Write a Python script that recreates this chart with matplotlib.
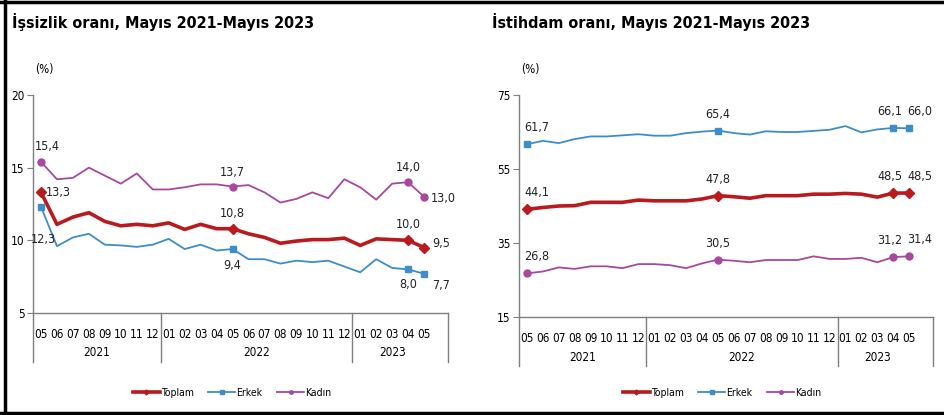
import matplotlib
matplotlib.use("Agg")
import matplotlib.pyplot as plt
from matplotlib import font_manager
from matplotlib.lines import Line2D
import matplotlib.transforms as mtransforms

# narrow font if there is one, like the Arial Narrow of the original
narrow = None
for f in font_manager.fontManager.ttflist:
    if ('Narrow' in f.name or 'Condensed' in f.name or f.stretch in ('condensed', 'semi-condensed')) \
            and f.style == 'normal' and f.weight in (400, 'normal', 'regular'):
        narrow = f
        break
if narrow is not None:
    plt.rcParams['font.family'] = [narrow.name, 'DejaVu Sans']
    plt.rcParams['font.stretch'] = narrow.stretch
else:
    plt.rcParams['font.family'] = ['Liberation Sans', 'DejaVu Sans']

# data
months = ['05', '06', '07', '08', '09', '10', '11', '12',
          '01', '02', '03', '04', '05', '06', '07', '08', '09', '10', '11', '12',
          '01', '02', '03', '04', '05']
years = ['2021', '2022', '2023']
year_bounds = [-0.5, 7.5, 19.5, 25.5]

issizlik_toplam = [13.3, 11.1, 11.6, 11.9, 11.3, 11.0, 11.1, 11.0, 11.2, 10.75, 11.1, 10.8, 10.8,
                   10.45, 10.2, 9.8, 9.95, 10.05, 10.05, 10.15, 9.65, 10.1, 10.05, 10.0, 9.5]
issizlik_erkek = [12.3, 9.6, 10.2, 10.45, 9.7, 9.65, 9.55, 9.7, 10.1, 9.4, 9.7, 9.3, 9.4,
                  8.7, 8.7, 8.4, 8.6, 8.5, 8.6, 8.2, 7.8, 8.7, 8.1, 8.0, 7.7]
issizlik_kadin = [15.4, 14.2, 14.3, 15.0, 14.45, 13.9, 14.6, 13.5, 13.5, 13.65, 13.85, 13.85, 13.7,
                  13.8, 13.3, 12.6, 12.85, 13.3, 12.9, 14.2, 13.65, 12.8, 13.9, 14.0, 13.0]

istihdam_toplam = [44.1, 44.6, 45.0, 45.1, 46.0, 46.0, 46.0, 46.6, 46.4, 46.4, 46.4, 46.9, 47.8,
                   47.5, 47.1, 47.8, 47.8, 47.8, 48.2, 48.2, 48.4, 48.2, 47.4, 48.5, 48.5]
istihdam_erkek = [61.7, 62.6, 62.0, 63.1, 63.8, 63.8, 64.1, 64.4, 64.0, 64.0, 64.7, 65.1, 65.4,
                  64.7, 64.3, 65.2, 65.0, 65.0, 65.3, 65.6, 66.6, 64.9, 65.7, 66.1, 66.0]
istihdam_kadin = [26.8, 27.3, 28.4, 28.0, 28.7, 28.7, 28.2, 29.3, 29.3, 29.0, 28.2, 29.5, 30.5,
                  30.2, 29.8, 30.4, 30.4, 30.4, 31.4, 30.7, 30.7, 31.0, 29.8, 31.2, 31.4]

label_idx = [0, 12, 23, 24]

red = '#B81A1E'
blue = '#3D8DC9'
purple = '#A8489F'

fig = plt.figure(figsize=(9.44, 4.15), dpi=100)
ax1 = fig.add_axes([0.035, 0.2458, 0.4396, 0.5253])
ax2 = fig.add_axes([0.5498, 0.2361, 0.4386, 0.5350])


def fmt(v):
    return ('%.1f' % v).replace('.', ',')


def draw(ax, series, ylim, yticks, offsets):
    x = list(range(len(months)))
    for vals, color, lw, mk, ms in series:
        ax.plot(x, vals, color=color, lw=lw, zorder=3)
        ax.plot([x[i] for i in label_idx], [vals[i] for i in label_idx], ls='none',
                marker=mk, color=color, ms=ms, zorder=4)
    for (vals, *_), offs in zip(series, offsets):
        for i, (dx, dy, ha, va) in zip(label_idx, offs):
            ax.annotate(fmt(vals[i]), (i, vals[i]), xytext=(dx, dy), textcoords='offset pixels',
                        ha=ha, va=va, fontsize=9, color='#222222', zorder=5)
    ax.set_xlim(-0.5, 25.5)
    ax.set_ylim(*ylim)
    ax.set_yticks(yticks)
    ax.set_xticks(x)
    ax.set_xticklabels(months, fontsize=8.5)
    ax.tick_params(axis='x', length=0, pad=11)
    ax.tick_params(axis='y', length=4, width=0.8, color='#808080', labelsize=8.5, pad=2)
    for s in ['top', 'right']:
        ax.spines[s].set_visible(False)
    for s in ['left', 'bottom']:
        ax.spines[s].set_color('#7f7f7f')
        ax.spines[s].set_linewidth(1.0)
    trans = mtransforms.blended_transform_factory(ax.transData, ax.transAxes)
    h = ax.get_window_extent().height
    for b in year_bounds:
        ax.add_line(Line2D([b, b], [0, -49 / h], transform=trans, color='#7f7f7f',
                           lw=1.0, clip_on=False))
    for k, yr in enumerate(years):
        ax.text((year_bounds[k] + year_bounds[k + 1]) / 2 - (0.5 if k == 2 else 0), -40 / h, yr,
                transform=trans, ha='center', va='center', fontsize=8.5)
    ax.text(0.005, 1.115, '(%)', transform=ax.transAxes, fontsize=8.5, ha='left', va='center')


left_series = [(issizlik_toplam, red, 2.6, 'D', 5),
               (issizlik_erkek, blue, 1.3, 's', 5),
               (issizlik_kadin, purple, 1.3, 'o', 5)]
left_offsets = [
    [(5, 0, 'left', 'center'), (0, 9, 'center', 'bottom'), (0, 9, 'center', 'bottom'), (8, 4, 'left', 'center')],
    [(2, -33, 'center', 'center'), (0, -10, 'center', 'top'), (0, -9, 'center', 'top'), (8, -12, 'left', 'center')],
    [(-6, 9, 'left', 'bottom'), (0, 8, 'center', 'bottom'), (0, 8, 'center', 'bottom'), (7, -2, 'left', 'center')],
]
draw(ax1, left_series, (5, 20), [5, 10, 15, 20], left_offsets)

right_series = [(istihdam_toplam, red, 2.6, 'D', 5),
                (istihdam_erkek, blue, 1.3, 's', 5),
                (istihdam_kadin, purple, 1.3, 'o', 5)]
right_offsets = [
    [(-3, 10, 'left', 'bottom'), (0, 10, 'center', 'bottom'), (9, 10, 'right', 'bottom'), (-2, 10, 'left', 'bottom')],
    [(-3, 10, 'left', 'bottom'), (0, 10, 'center', 'bottom'), (9, 10, 'right', 'bottom'), (-2, 10, 'left', 'bottom')],
    [(-3, 10, 'left', 'bottom'), (0, 10, 'center', 'bottom'), (9, 10, 'right', 'bottom'), (-2, 10, 'left', 'bottom')],
]
draw(ax2, right_series, (15, 75), [15, 35, 55, 75], right_offsets)

fig.text(12 / 944, 1 - 22 / 415, 'İşsizlik oranı, Mayıs 2021-Mayıs 2023', fontsize=11.5,
         fontweight='bold', ha='left', va='center')
fig.text(492 / 944, 1 - 22 / 415, 'İstihdam oranı, Mayıs 2021-Mayıs 2023', fontsize=11.5,
         fontweight='bold', ha='left', va='center')

handles = [Line2D([], [], color=red, lw=2.6, marker='D', ms=2.5),
           Line2D([], [], color=blue, lw=1.3, marker='s', ms=2.5),
           Line2D([], [], color=purple, lw=1.3, marker='o', ms=2.5)]
labels = ['Toplam', 'Erkek', 'Kadın']
for cx in [232 / 944, 722 / 944]:
    fig.legend(handles, labels, loc='center', bbox_to_anchor=(cx, 1 - 393 / 415), ncol=3,
               frameon=False, fontsize=7.5, handlelength=2.6, handletextpad=0.1,
               columnspacing=1.4)

# frame around the picture
fig.add_artist(Line2D([5 / 944, 5 / 944], [0, 1], color='black', lw=2.5, transform=fig.transFigure))
fig.add_artist(Line2D([0, 1], [1 - 2 / 415, 1 - 2 / 415], color='black', lw=2.5, transform=fig.transFigure))
fig.add_artist(Line2D([0, 1], [2 / 415, 2 / 415], color='black', lw=2.5, transform=fig.transFigure))

fig.savefig('out.png', dpi=100)
